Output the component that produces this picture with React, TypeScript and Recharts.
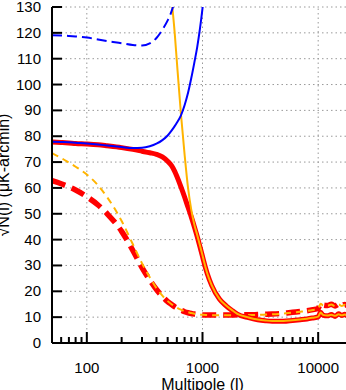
import { LineChart, Line, XAxis, YAxis, CartesianGrid, ReferenceLine, Label } from 'recharts';

const ELL = [
  50, 60, 70, 80, 100, 125, 150, 200, 250, 300, 350, 400, 450, 500,
  540, 575, 600, 650, 700, 750, 800, 850, 900, 950, 1000, 1020,
  1100, 1200, 1400, 1600, 1800, 2000, 2500, 3000, 3500, 4000,
  5000, 6000, 7000, 8000, 9000, 10000, 10500, 11000, 12000, 13000,
  14000, 15000, 16000, 17000, 18000, 20000,
];

const RED_SOLID = [
  77.8, 77.6, 77.4, 77.2, 77.0, 76.7, 76.3, 75.6, 74.9, 74.2, 73.6, 73.0, 72.0, 70.3,
  68.6, 66.4, 64.5, 60.5, 56.5, 52.5, 48.8, 45.0, 41.2, 37.3, 33.5, 32.0,
  26.8, 22.3, 17.0, 14.4, 12.6, 11.2, 9.8, 9.0, 8.6, 8.4,
  8.4, 8.7, 9.0, 9.3, 9.7, 10.1, 11.9, 10.8, 10.5, 11.0,
  10.3, 11.3, 10.6, 11.1, 10.5, 10.9,
];

const ORANGE_SOLID = [
  null, null, null, null, null, null, null, null, null, null, null, null, null, null,
  133, 120, 109, 89, 73, 60, 51.5, 45.8, 41.8, 37.8, 33.9, 32.3,
  26.9, 22.4, 17.1, 14.5, 12.7, 11.3, 9.9, 9.1, 8.7, 8.5,
  8.5, 8.8, 9.1, 9.4, 9.8, 10.2, 11.8, 10.9, 10.6, 10.9,
  10.5, 11.1, 10.7, 11.0, 10.6, 10.8,
];

const BLUE_SOLID = [
  77.9, 77.8, 77.7, 77.5, 77.2, 76.8, 76.4, 75.8, 75.4, 75.5, 76.1, 77.1, 78.5, 80.3,
  82.2, 83.9, 85.2, 88.0, 92.0, 96.8, 102.5, 108.5, 114.5, 121.5, 129.5, 133,
  null, null, null, null, null, null, null, null, null, null,
  null, null, null, null, null, null, null, null, null, null,
  null, null, null, null, null, null,
];

const BLUE_DASHED = [
  119.1, 119.0, 118.8, 118.6, 118.2, 117.4, 116.8, 116.0, 115.3, 115.1, 115.9, 118.0, 121.2, 124.8,
  128.3, 132.5, null, null, null, null, null, null, null, null, null, null,
  null, null, null, null, null, null, null, null, null, null,
  null, null, null, null, null, null, null, null, null, null,
  null, null, null, null, null, null,
];

const ORANGE_DASHED = [
  73.5, 71.6, 69.8, 68.2, 65.2, 61.0, 56.4, 47.2, 38.2, 30.8, 25.4, 21.2, 18.3, 16.2,
  15.0, 14.2, 13.7, 12.9, 12.3, 11.9, 11.6, 11.3, 11.1, 11.0, 10.9, 10.9,
  10.8, 10.7, 10.7, 10.7, 10.7, 10.8, 10.8, 10.9, 11.0, 11.1,
  11.4, 11.8, 12.1, 12.4, 12.8, 13.3, 15.2, 14.6, 14.4, 14.9,
  14.2, 14.9, 14.3, 14.8, 14.4, 14.6,
];

const RED_DASHED = [
  62.8, 61.6, 60.4, 59.2, 56.6, 53.4, 50.0, 43.2, 35.8, 29.2, 24.4, 20.7, 18.0, 16.0,
  14.9, 14.0, 13.5, 12.7, 12.1, 11.7, 11.4, 11.2, 11.0, 10.9, 10.8, 10.8,
  10.8, 10.8, 10.8, 10.8, 10.8, 10.9, 10.9, 11.0, 11.1, 11.2,
  11.5, 11.9, 12.2, 12.5, 12.9, 13.4, 15.3, 14.7, 14.5, 15.0,
  14.3, 15.0, 14.4, 14.9, 14.5, 14.7,
];

const X_MAJOR = [100, 1000, 10000];
const X_TICKS = [
  60, 70, 80, 90, 100, 200, 300, 400, 500, 600, 700, 800, 900, 1000,
  2000, 3000, 4000, 5000, 6000, 7000, 8000, 9000, 10000, 20000,
];
const Y_TICKS = [0, 10, 20, 30, 40, 50, 60, 70, 80, 90, 100, 110, 120, 130];

const data = ELL.map((l, i) => ({
  l,
  redSolid: RED_SOLID[i],
  orangeSolid: ORANGE_SOLID[i],
  blueSolid: BLUE_SOLID[i],
  blueDashed: BLUE_DASHED[i],
  orangeDashed: ORANGE_DASHED[i],
  redDashed: RED_DASHED[i],
}));

const FONT = '"Liberation Sans", Arial, sans-serif';
const RED = '#ff0000';
const ORANGE = '#ffb400';
const BLUE = '#0000ff';

const BottomTick = ({ x, y, payload }: any) => {
  const major = X_MAJOR.includes(payload.value);
  return (
    <g>
      <line x1={x} x2={x} y1={y} y2={y - (major ? 11 : 6)} stroke="#000" strokeWidth={2} />
      {major && (
        <text x={x} y={y + 29.5} textAnchor="middle" fontSize={15} fontFamily={FONT} fill="#000">
          {payload.value}
        </text>
      )}
    </g>
  );
};

const TopTick = ({ x, y, payload }: any) => {
  const major = X_MAJOR.includes(payload.value);
  return <line x1={x} x2={x} y1={y} y2={y + (major ? 12 : 6)} stroke="#000" strokeWidth={2} />;
};

const LeftTick = ({ x, y, payload }: any) => (
  <g>
    <line x1={x} x2={x + 10} y1={y} y2={y} stroke="#000" strokeWidth={2} />
    <text x={x - 11} y={y + 5} textAnchor="end" fontSize={15} fontFamily={FONT} fill="#000">
      {payload.value}
    </text>
  </g>
);

const RightTick = ({ x, y }: any) => (
  <line x1={x} x2={x - 10} y1={y} y2={y} stroke="#000" strokeWidth={2} />
);

const XTitle = ({ viewBox }: any) => (
  <text x={viewBox.x + viewBox.width / 2} y={viewBox.y + 46.5} textAnchor="middle" fontSize={16} fontFamily={FONT} fill="#000">
    Multipole (l)
  </text>
);

const YTitle = ({ viewBox }: any) => {
  const cx = viewBox.x + 9;
  const cy = viewBox.y + viewBox.height / 2;
  return (
    <text x={cx} y={cy} transform={`rotate(-90 ${cx} ${cy})`} textAnchor="middle" fontSize={16} fontFamily={FONT} fill="#000">
      √N(l) (μK-arcmin)
    </text>
  );
};

const axisLine = { stroke: '#000', strokeWidth: 2 };
const gridDash = '1.5 3';

export default function App() {
  return (
    <div style={{ position: 'absolute', left: 0, top: 0, width: 346, height: 390, overflow: 'hidden', background: '#fff' }}>
      <LineChart width={353} height={400} data={data} margin={{ top: 7, right: 0, bottom: 0, left: 0 }}>
        <CartesianGrid xAxisId="b" yAxisId="l" vertical={false} stroke="#999" strokeDasharray={gridDash} />
        <XAxis
          xAxisId="b"
          dataKey="l"
          type="number"
          scale="log"
          domain={[50, 20000]}
          allowDataOverflow
          ticks={X_TICKS}
          interval={0}
          tickSize={0}
          tickMargin={0}
          tickLine={false}
          height={57}
          axisLine={axisLine}
          tick={BottomTick}
        >
          <Label content={XTitle} />
        </XAxis>
        <XAxis
          xAxisId="t"
          orientation="top"
          dataKey="l"
          type="number"
          scale="log"
          domain={[50, 20000]}
          allowDataOverflow
          ticks={X_TICKS}
          interval={0}
          tickSize={0}
          tickMargin={0}
          tickLine={false}
          height={0}
          axisLine={axisLine}
          tick={TopTick}
        />
        <YAxis
          yAxisId="l"
          type="number"
          domain={[0, 130]}
          allowDataOverflow
          ticks={Y_TICKS}
          interval={0}
          tickSize={0}
          tickMargin={0}
          tickLine={false}
          width={52}
          axisLine={axisLine}
          tick={LeftTick}
        >
          <Label content={YTitle} />
        </YAxis>
        <YAxis
          yAxisId="r"
          orientation="right"
          type="number"
          domain={[0, 130]}
          allowDataOverflow
          ticks={Y_TICKS}
          interval={0}
          tickSize={0}
          tickMargin={0}
          tickLine={false}
          width={0}
          axisLine={axisLine}
          tick={RightTick}
        />
        {X_MAJOR.map((v) => (
          <ReferenceLine key={v} xAxisId="b" yAxisId="l" x={v} stroke="#999" strokeDasharray={gridDash} />
        ))}
        <Line xAxisId="b" yAxisId="l" type="monotone" dataKey="redDashed" stroke={RED} strokeWidth={5.5} strokeDasharray="14 7" dot={false} activeDot={false} isAnimationActive={false} />
        <Line xAxisId="b" yAxisId="l" type="monotone" dataKey="orangeDashed" stroke={ORANGE} strokeWidth={2} strokeDasharray="7 5" dot={false} activeDot={false} isAnimationActive={false} />
        <Line xAxisId="b" yAxisId="l" type="monotone" dataKey="redSolid" stroke={RED} strokeWidth={5} dot={false} activeDot={false} isAnimationActive={false} />
        <Line xAxisId="b" yAxisId="l" type="monotone" dataKey="orangeSolid" stroke={ORANGE} strokeWidth={2} dot={false} activeDot={false} isAnimationActive={false} />
        <Line xAxisId="b" yAxisId="l" type="monotone" dataKey="blueDashed" stroke={BLUE} strokeWidth={2} strokeDasharray="10 5" dot={false} activeDot={false} isAnimationActive={false} />
        <Line xAxisId="b" yAxisId="l" type="monotone" dataKey="blueSolid" stroke={BLUE} strokeWidth={2} dot={false} activeDot={false} isAnimationActive={false} />
      </LineChart>
    </div>
  );
}
